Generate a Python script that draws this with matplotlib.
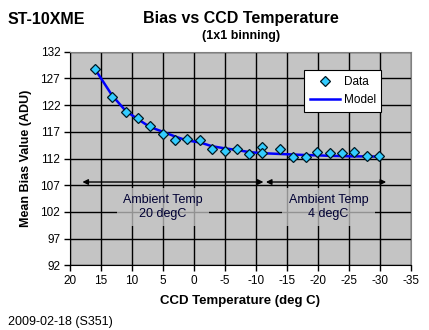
import matplotlib
matplotlib.use("Agg")
import matplotlib.pyplot as plt

plt.rcParams['font.family'] = ['Liberation Sans', 'DejaVu Sans']

temps = [16, 13.2, 11, 9.1, 7.1, 5, 3, 1.2, -1, -2.9, -5, -6.9, -8.9, -11, -11, -13.9, -16, -18, -19.8, -21.9, -23.9, -25.8, -27.9, -29.9]
bias = [128.8, 123.5, 120.8, 119.6, 118.0, 116.6, 115.5, 115.7, 115.4, 113.7, 113.5, 113.8, 112.9, 114.1, 113.1, 113.8, 112.2, 112.3, 113.3, 113.0, 113.0, 113.2, 112.5, 112.5]

model_t = [16, 13.2, 11, 9.1, 7.1, 5, 3, 1.2, -1, -2.9, -5, -6.9, -8.9, -11, -13.9, -16, -18, -19.8, -21.9, -23.9, -25.8, -27.9, -29.9]
model_b = [128.8, 123.8, 120.9, 119.4, 117.9, 117.0, 116.1, 115.4, 115.0, 114.3, 113.9, 113.6, 113.2, 113.0, 112.85, 112.75, 112.65, 112.6, 112.5, 112.45, 112.4, 112.4, 112.35]

xticks = [20, 15, 10, 5, 0, -5, -10, -15, -20, -25, -30, -35]
yticks = [92, 97, 102, 107, 112, 117, 122, 127, 132]

arrows = [(18, -11.2), (-11.6, -31)]
arrow_y = 107.6
notes = [("Ambient Temp\n20 degC", 5, 102.9), ("Ambient Temp\n4 degC", -21.7, 102.9)]

fig = plt.figure(figsize=(4.29, 3.30), dpi=100)
ax = fig.add_axes([0.1632, 0.196, 0.7948, 0.6473])
ax.set_facecolor('#c4c4c4')
ax.set_xlim(20, -35)
ax.set_ylim(92, 132)
ax.set_xticks(xticks)
ax.set_yticks(yticks)
ax.set_xticklabels([str(t) for t in xticks], fontsize=8.5)
ax.set_yticklabels([str(t) for t in yticks], fontsize=8.5)
ax.grid(True, color='black', linewidth=1)
ax.set_axisbelow(True)
ax.tick_params(direction='out', length=4, width=1, colors='black', pad=3)
for s in ['top', 'right']:
    ax.spines[s].set_color('#808080')
for s in ['left', 'bottom']:
    ax.spines[s].set_color('black')

ax.plot(model_t, model_b, color='#0000ff', lw=1.8, label='Model', zorder=3)
ax.plot(temps, bias, linestyle='none', marker='D', markersize=5,
        markerfacecolor='#33ccff', markeredgecolor='#001822', markeredgewidth=0.9,
        label='Data', zorder=4)

for a, b in arrows:
    ax.annotate('', xy=(b, arrow_y), xytext=(a, arrow_y),
                arrowprops=dict(arrowstyle='<|-|>', color='black', lw=1,
                                mutation_scale=8, shrinkA=0, shrinkB=0), zorder=5)
for txt, x, y in notes:
    ax.text(x, y, txt, ha='center', va='center', fontsize=9, color='#000033',
            linespacing=1.2,
            bbox=dict(boxstyle='square,pad=0.5', facecolor='#c4c4c4', edgecolor='none', alpha=0.75),
            zorder=5)

h, l = ax.get_legend_handles_labels()
leg = ax.legend(h[::-1], l[::-1], loc='upper right', bbox_to_anchor=(0.93, 0.94),
                fontsize=8.5, frameon=True, fancybox=False, framealpha=1,
                edgecolor='black', handlelength=2.6, borderpad=0.45, labelspacing=0.55,
                handletextpad=0.3)
leg.get_frame().set_linewidth(0.8)

ax.set_xlabel('CCD Temperature (deg C)', fontsize=9.5, fontweight='bold', labelpad=6)
ax.set_ylabel('Mean Bias Value (ADU)', fontsize=9, fontweight='bold', labelpad=6)

fig.text(241 / 429, 1 - 18 / 330, 'Bias vs CCD Temperature', ha='center', va='center',
         fontsize=11.5, fontweight='bold')
fig.text(241 / 429, 1 - 36 / 330, '(1x1 binning)', ha='center', va='center',
         fontsize=9, fontweight='bold')
fig.text(8 / 429, 1 - 20 / 330, 'ST-10XME', ha='left', va='center',
         fontsize=11.5, fontweight='bold')
fig.text(8 / 429, 1 - 322 / 330, '2009-02-18 (S351)', ha='left', va='center', fontsize=9)

fig.savefig('out.png', dpi=100)
